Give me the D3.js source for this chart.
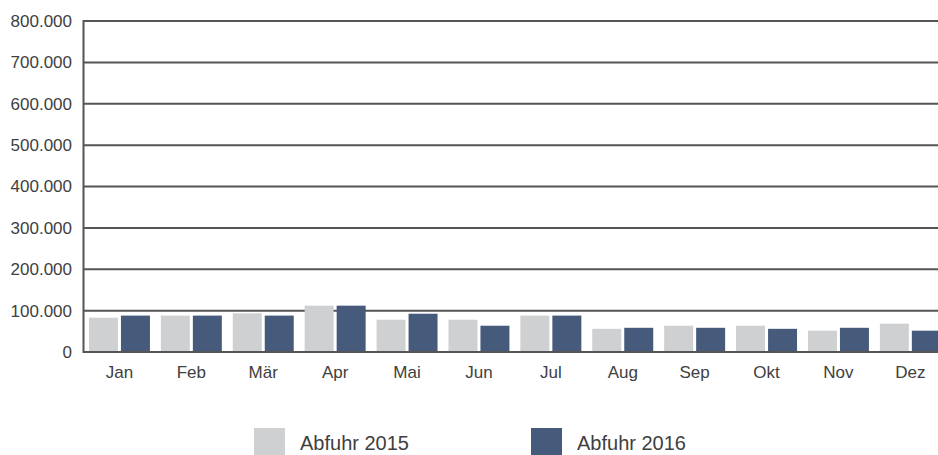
<!DOCTYPE html>
<html>
<head>
<meta charset="utf-8">
<script src="https://cdn.jsdelivr.net/npm/d3@7"></script>
<style>
  body { margin: 0; background: #fff; }
  svg { display: block; font-family: "Liberation Sans", Arial, sans-serif; }
</style>
</head>
<body>
<div id="chart"></div>
<script>
// month categories and series
const months = ['Jan', 'Feb', 'Mär', 'Apr', 'Mai', 'Jun', 'Jul', 'Aug', 'Sep', 'Okt', 'Nov', 'Dez'];
const series = ['Abfuhr 2015', 'Abfuhr 2016'];
const abfuhr2015 = [83000, 88000, 93500, 112000, 78000, 78000, 88000, 56000, 63500, 63500, 51500, 68500];
const abfuhr2016 = [88000, 88000, 88000, 112000, 92500, 63500, 88000, 58500, 58500, 56000, 58500, 51500];
const yTicks = [0, 100000, 200000, 300000, 400000, 500000, 600000, 700000, 800000];
const colors = ['#cfd0d2', '#465a7b'];

const width = 938;
const height = 455;
const margin = { top: 21, left: 83.5, bottom: 103 };

const svg = d3.select('#chart')
  .append('svg')
  .attr('width', width)
  .attr('height', height);

const y = d3.scaleLinear()
  .domain([0, 800000])
  .range([height - margin.bottom, margin.top]);

const x0 = d3.scaleBand()
  .domain(months)
  .range([margin.left, margin.left + 12 * 71.9])
  .paddingInner(0.152)
  .paddingOuter(0.076);

const x1 = d3.scaleBand()
  .domain(series)
  .range([0, x0.bandwidth()])
  .paddingInner(0.094);

const fmt = v => v === 0 ? '0' : d3.format(',')(v).replace(/,/g, '.');

// gridlines
svg.append('g')
  .selectAll('line')
  .data(yTicks.filter(d => d > 0))
  .enter()
  .append('line')
  .attr('x1', margin.left)
  .attr('x2', width)
  .attr('y1', d => y(d))
  .attr('y2', d => y(d))
  .attr('stroke', '#555')
  .attr('stroke-width', 2);

// y labels
svg.append('g')
  .selectAll('text')
  .data(yTicks)
  .enter()
  .append('text')
  .attr('x', 72)
  .attr('y', d => y(d))
  .attr('dy', '0.35em')
  .attr('text-anchor', 'end')
  .style('font-size', '17px')
  .style('fill', '#404040')
  .text(fmt);

// bars
const rows = months.map((m, i) => ({ month: m, values: [abfuhr2015[i], abfuhr2016[i]] }));

const groups = svg.append('g')
  .selectAll('g')
  .data(rows)
  .enter()
  .append('g')
  .attr('transform', d => `translate(${x0(d.month)},0)`);

groups.selectAll('rect')
  .data(d => d.values.map((v, i) => ({ key: series[i], value: v, i })))
  .enter()
  .append('rect')
  .attr('x', d => x1(d.key))
  .attr('width', x1.bandwidth())
  .attr('y', d => y(d.value))
  .attr('height', d => y(0) - y(d.value))
  .attr('fill', d => colors[d.i]);

// axis lines
svg.append('line')
  .attr('x1', margin.left).attr('x2', width)
  .attr('y1', y(0)).attr('y2', y(0))
  .attr('stroke', '#555').attr('stroke-width', 2);

svg.append('line')
  .attr('x1', margin.left).attr('x2', margin.left)
  .attr('y1', y(800000) - 1).attr('y2', y(0) + 1)
  .attr('stroke', '#555').attr('stroke-width', 2);

// month labels
svg.append('g')
  .selectAll('text')
  .data(months)
  .enter()
  .append('text')
  .attr('x', d => x0(d) + x0.bandwidth() / 2)
  .attr('y', 378)
  .attr('text-anchor', 'middle')
  .style('font-size', '17px')
  .style('fill', '#404040')
  .text(d => d);

// legend
const legendX = [254, 531];
const legend = svg.append('g')
  .selectAll('g')
  .data(series)
  .enter()
  .append('g')
  .attr('transform', (d, i) => `translate(${legendX[i]},428)`);

legend.append('rect')
  .attr('width', 31)
  .attr('height', 28)
  .attr('fill', (d, i) => colors[i]);

legend.append('text')
  .attr('x', 46)
  .attr('y', 22)
  .style('font-size', '20px')
  .style('fill', '#404040')
  .text(d => d);
</script>
</body>
</html>
